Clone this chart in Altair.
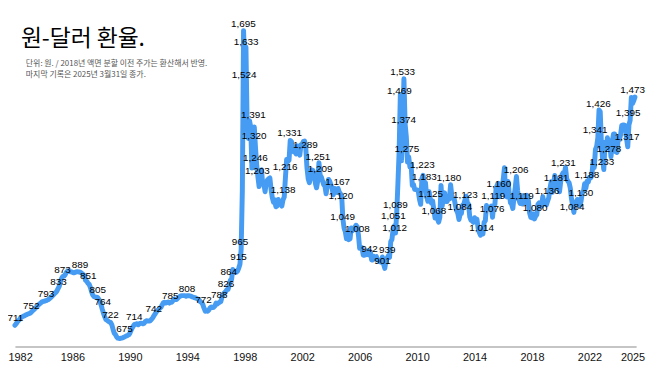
import altair as alt
import pandas as pd

first_year = 1982

# Month-end won per dollar, Jan 1982 .. Mar 2025
rate = [
    711, 716, 722, 727, 731, 736, 739, 741, 743, 745, 747, 749,          # 1982
    750, 752, 756, 760, 764, 768, 772, 776, 780, 784, 787, 790,          # 1983
    791, 792, 793, 795, 797, 800, 804, 808, 812, 816, 820, 825,          # 1984
    833, 841, 857, 868, 874, 875, 880, 888, 892, 893, 890, 890,          # 1985
    888, 886, 887, 889, 890, 889, 889, 887, 884, 881, 876, 861,          # 1986
    858, 851, 848, 838, 823, 812, 807, 805, 805, 804, 798, 792,          # 1987
    779, 764, 751, 740, 730, 728, 724, 722, 720, 712, 697, 684,          # 1988
    680, 672, 668, 667, 667, 668, 669, 671, 673, 675, 677, 679,          # 1989
    684, 694, 702, 709, 714, 715, 716, 713, 716, 718, 717, 716,          # 1990
    718, 724, 726, 725, 725, 726, 730, 735, 742, 748, 755, 760,          # 1991
    763, 768, 771, 779, 786, 788, 785, 787, 789, 785, 788, 788,          # 1992
    793, 798, 797, 797, 801, 805, 808, 810, 810, 810, 810, 808,          # 1993
    810, 810, 809, 808, 806, 805, 803, 802, 800, 798, 795, 789,          # 1994
    787, 780, 768, 758, 760, 758, 762, 769, 772, 770, 771, 775,          # 1995
    785, 782, 785, 788, 790, 806, 812, 820, 823, 830, 830, 844,          # 1996
    861, 864, 897, 893, 891, 888, 892, 902, 915, 965, 1163, 1695,        # 1997
    1572, 1640, 1383, 1335, 1394, 1373, 1236, 1322, 1373, 1303, 1245, 1207,  # 1998
    1174, 1227, 1230, 1183, 1183, 1157, 1189, 1196, 1200, 1203, 1165, 1138,  # 1999
    1122, 1130, 1107, 1109, 1131, 1115, 1117, 1109, 1130, 1139, 1205, 1265,  # 2000
    1258, 1262, 1328, 1325, 1300, 1290, 1307, 1283, 1310, 1293, 1279, 1314,  # 2001
    1316, 1325, 1326, 1303, 1237, 1200, 1187, 1205, 1230, 1228, 1216, 1186,  # 2002
    1170, 1193, 1254, 1212, 1206, 1193, 1180, 1176, 1150, 1182, 1198, 1192,  # 2003
    1180, 1167, 1147, 1168, 1162, 1155, 1168, 1155, 1150, 1142, 1066, 1035,  # 2004
    1024, 1000, 1015, 997, 1000, 1036, 1027, 1036, 1038, 1045, 1040, 1012,   # 2005
    968, 972, 970, 945, 945, 950, 947, 960, 946, 956, 929, 929,              # 2006
    941, 938, 940, 929, 928, 923, 921, 939, 915, 901, 926, 936,              # 2007
    943, 938, 990, 998, 1033, 1043, 1019, 1089, 1187, 1292, 1482, 1260,      # 2008
    1380, 1534, 1383, 1340, 1256, 1273, 1240, 1248, 1178, 1181, 1165, 1164,  # 2009
    1163, 1158, 1131, 1115, 1200, 1212, 1183, 1187, 1140, 1125, 1157, 1135,  # 2010
    1119, 1126, 1096, 1069, 1083, 1067, 1055, 1071, 1178, 1109, 1145, 1153,  # 2011
    1124, 1124, 1135, 1133, 1180, 1145, 1135, 1134, 1112, 1094, 1085, 1064,  # 2012
    1083, 1084, 1112, 1115, 1130, 1142, 1120, 1115, 1073, 1062, 1060, 1055,  # 2013
    1070, 1066, 1065, 1035, 1021, 1012, 1026, 1016, 1055, 1060, 1111, 1099,  # 2014
    1100, 1100, 1109, 1072, 1110, 1115, 1170, 1180, 1185, 1140, 1160, 1172,  # 2015
    1199, 1237, 1143, 1140, 1191, 1152, 1120, 1115, 1101, 1140, 1171, 1208,  # 2016
    1160, 1131, 1118, 1136, 1116, 1144, 1120, 1126, 1145, 1126, 1086, 1071,  # 2017
    1070, 1083, 1066, 1075, 1080, 1115, 1120, 1110, 1109, 1140, 1120, 1116,  # 2018
    1113, 1125, 1137, 1168, 1190, 1155, 1183, 1211, 1200, 1170, 1181, 1157,  # 2019
    1191, 1213, 1220, 1217, 1238, 1200, 1192, 1187, 1169, 1133, 1110, 1088,  # 2020
    1117, 1124, 1131, 1116, 1111, 1126, 1152, 1158, 1184, 1169, 1192, 1189,  # 2021
    1205, 1203, 1212, 1256, 1238, 1298, 1308, 1337, 1430, 1425, 1318, 1264,  # 2022
    1231, 1322, 1302, 1337, 1323, 1317, 1274, 1321, 1349, 1350, 1290, 1288,  # 2023
    1335, 1331, 1347, 1378, 1380, 1380, 1377, 1334, 1307, 1380, 1395, 1472,  # 2024
    1452, 1461, 1473,                                                        # 2025
]

# Annotated values and where they sit (decimal year)
label_year = [
    1982.03, 1983.13, 1984.17, 1985.03, 1985.31, 1986.53, 1987.10, 1987.77, 1988.12, 1988.65,
    1989.63, 1990.30, 1991.66, 1992.81, 1993.98, 1995.13, 1996.23, 1996.69, 1996.88, 1997.57,
    1997.67, 1997.91, 1998.10, 1997.96, 1998.60, 1998.65, 1998.74, 1998.88, 2000.81, 2000.67,
    2001.13, 2002.23, 2003.10, 2003.24, 2004.46, 2004.69, 2004.81, 2005.84, 2006.69, 2007.93,
    2007.59, 2008.48, 2008.34, 2008.44, 2008.99, 2008.76, 2009.06, 2009.29, 2010.37, 2010.50,
    2012.21, 2010.94, 2011.17, 2013.36, 2012.97, 2014.50, 2015.22, 2015.31, 2015.70, 2016.90,
    2017.29, 2018.22, 2019.05, 2019.68, 2020.19, 2021.41, 2020.79, 2021.82, 2022.86, 2022.39,
    2022.62, 2023.36, 2024.62, 2024.69, 2025.01,
]
label_value = [
    711, 752, 793, 833, 873, 889, 851, 805, 764, 722,
    675, 714, 742, 785, 808, 772, 788, 826, 864, 915,
    965, 1695, 1633, 1524, 1391, 1320, 1246, 1203, 1216, 1138,
    1331, 1289, 1251, 1209, 1167, 1120, 1049, 1008, 942, 939,
    901, 1089, 1051, 1012, 1533, 1469, 1374, 1275, 1223, 1183,
    1180, 1125, 1068, 1123, 1084, 1014, 1076, 1119, 1160, 1206,
    1119, 1080, 1136, 1181, 1231, 1130, 1084, 1188, 1233, 1341,
    1426, 1278, 1317, 1395, 1473,
]

tick_years = [1982, 1986, 1990, 1994, 1998, 2002, 2006, 2010, 2014, 2018, 2022, 2025]

title_text = "원-달러 환율."
subtitle_lines = [
    "단위: 원. / 2018년 액면 분할 이전 주가는 환산해서 반영.",
    "마지막 기록은 2025년 3월31일 종가.",
]

months = [first_year + i / 12 for i in range(len(rate))]
series = pd.DataFrame({"t": months, "v": rate})
labels = pd.DataFrame({"t": label_year, "v": label_value})

x_enc = alt.X(
    "t:Q",
    scale=alt.Scale(domain=[1982, 2025.25], nice=False, zero=False),
    axis=alt.Axis(
        values=tick_years, format="d", title=None, grid=False, ticks=False, tickSize=0,
        domainColor="#8a8a8a", domainWidth=1, labelFont="Liberation Sans",
        labelFontSize=11, labelColor="#111111", labelPadding=5,
        labelFlush=2, labelFlushOffset=7, labelOverlap=False,
    ),
)
y_enc = alt.Y("v:Q", scale=alt.Scale(domain=[640, 1765], nice=False, zero=False), axis=None)

line = alt.Chart(series).mark_line(
    color="#469bf2", strokeWidth=5, strokeJoin="round", strokeCap="round"
).encode(x=x_enc, y=y_enc)

value_text = alt.Chart(labels).mark_text(
    font="Liberation Sans", fontSize=10, dy=-7, color="#000000"
).encode(x=x_enc, y=y_enc, text=alt.Text("v:Q", format=","))

title = alt.Chart(pd.DataFrame({"s": [title_text]})).mark_text(
    font="Noto Sans CJK KR", fontSize=23, fontWeight="normal", align="left", baseline="middle", color="#000000"
).encode(x=alt.value(6), y=alt.value(30), text="s:N")

sub1 = alt.Chart(pd.DataFrame({"s": [subtitle_lines[0]]})).mark_text(
    font="Noto Sans CJK KR", fontSize=8, align="left", baseline="middle", color="#555555"
).encode(x=alt.value(11), y=alt.value(55), text="s:N")

sub2 = alt.Chart(pd.DataFrame({"s": [subtitle_lines[1]]})).mark_text(
    font="Noto Sans CJK KR", fontSize=8, align="left", baseline="middle", color="#555555"
).encode(x=alt.value(11), y=alt.value(65.5), text="s:N")

chart = alt.layer(line, value_text, title, sub1, sub2).properties(
    width=627,
    height=340,
    autosize=alt.AutoSizeParams(type="none"),
    padding={"left": 7, "top": 0, "right": 14, "bottom": 20},
).configure_view(stroke=None)

chart.save("out.html", embed_options={"renderer": "svg", "actions": False})
